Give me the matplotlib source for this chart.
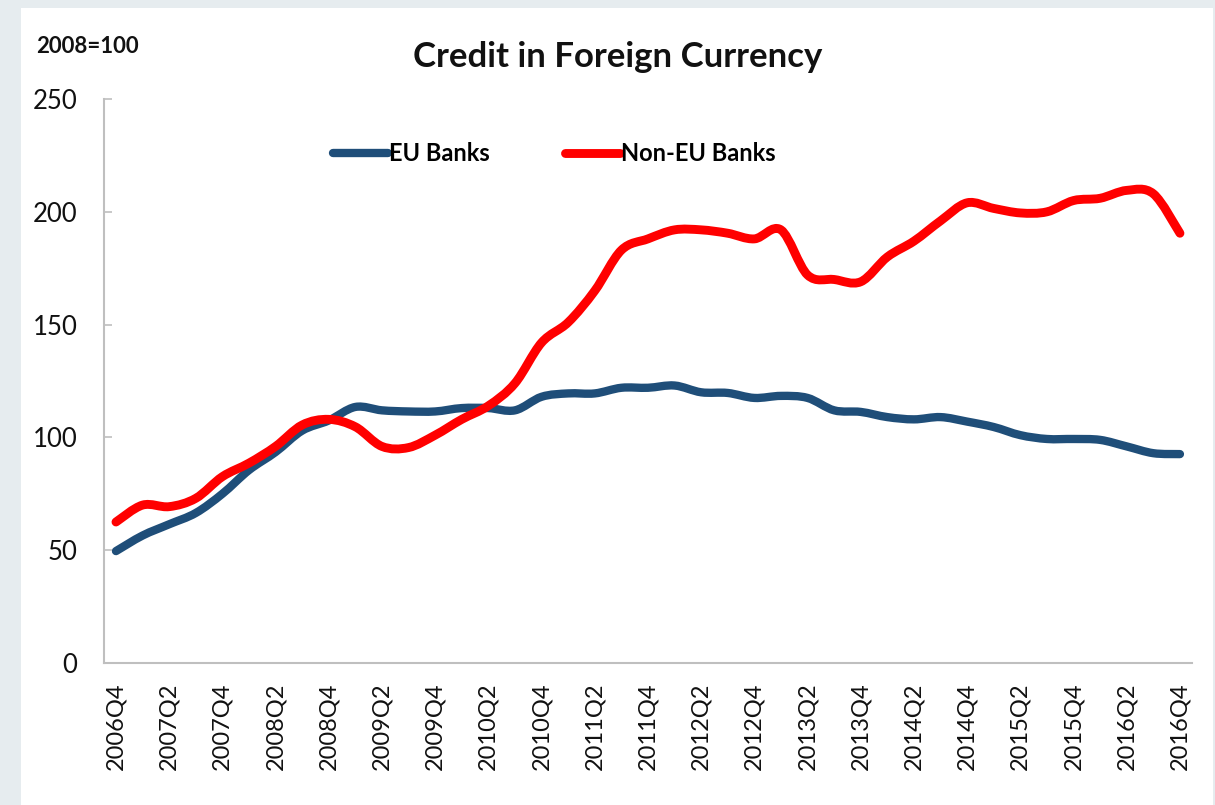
import numpy as np
import matplotlib.pyplot as plt
from matplotlib.path import Path
from matplotlib.patches import PathPatch, Rectangle
from matplotlib.lines import Line2D

plt.rcParams['font.family'] = ['Lato', 'DejaVu Sans']

# quarters 2006Q4 .. 2016Q4
quarters = []
for y in range(2006, 2017):
    for q in range(1, 5):
        if (y == 2006 and q < 4):
            continue
        quarters.append(f"{y}Q{q}")

eu_banks = [49.6, 56.5, 61.5, 66.5, 75, 85.5, 93.5, 103, 107.5, 113.5,
            112, 111.5, 111.5, 113, 113, 112, 118, 119.5, 119.5, 122,
            122, 123, 120, 119.7, 117.5, 118.4, 117.5, 112, 111.3, 109,
            108, 109, 107, 104.6, 101, 99.3, 99.3, 98.9, 96, 93, 92.6]
non_eu_banks = [62.5, 70, 69.3, 73, 82.6, 88.6, 96, 105.5, 108, 104.7,
                96, 95.5, 101, 108, 114, 124, 142, 151, 165, 183,
                188, 192, 192, 190.5, 188, 192, 172, 170, 169, 180,
                187, 196, 204, 201.5, 199.5, 200, 205, 206, 209.5, 208, 190.5]


def smooth_path(xs, ys, t=1/6):
    # excel-like smoothed line: cubic bezier through every point
    pts = np.column_stack([xs, ys])
    verts = [pts[0]]
    codes = [Path.MOVETO]
    n = len(pts)
    for i in range(n - 1):
        p0 = pts[i - 1] if i > 0 else pts[i]
        p1 = pts[i]
        p2 = pts[i + 1]
        p3 = pts[i + 2] if i + 2 < n else pts[i + 1]
        c1 = p1 + (p2 - p0) * t
        c2 = p2 - (p3 - p1) * t
        verts += [c1, c2, p2]
        codes += [Path.CURVE4] * 3
    return Path(verts, codes)


fig = plt.figure(figsize=(12.15, 8.05), dpi=100)
fig.patch.set_facecolor('#e6ecef')
fig.patches.append(Rectangle((0.0173, 0), 0.981, 0.99, transform=fig.transFigure,
                             facecolor='white', edgecolor='none', zorder=-5))

ax = fig.add_axes([0.0856, 0.1764, 0.8954, 0.7006])
ax.set_facecolor('white')

x = np.arange(len(quarters))
blue = '#1f4e79'
red = '#ff0000'
ax.add_patch(PathPatch(smooth_path(x, eu_banks), facecolor='none', edgecolor=blue,
                       lw=6.0, capstyle='round', joinstyle='round'))
ax.add_patch(PathPatch(smooth_path(x, non_eu_banks), facecolor='none', edgecolor=red,
                       lw=6.4, capstyle='round', joinstyle='round'))

ax.set_xlim(-0.45, len(quarters) - 0.55)
ax.set_ylim(0, 250)
ax.set_yticks([0, 50, 100, 150, 200, 250])
ax.set_xticks(x[::2])
ax.set_xticklabels(quarters[::2], rotation=90)

for s in ['top', 'right']:
    ax.spines[s].set_visible(False)
for s in ['left', 'bottom']:
    ax.spines[s].set_color('#bfbfbf')
    ax.spines[s].set_linewidth(1.5)
ax.tick_params(axis='y', direction='in', length=6, color='#bfbfbf', width=1.2,
               labelsize=18.5, pad=19, labelcolor='#111111')
ax.tick_params(axis='x', length=0, labelsize=17, pad=14, labelcolor='#111111')

handles = [Line2D([], [], color=blue, lw=6.0, solid_capstyle='round'),
           Line2D([], [], color=red, lw=6.4, solid_capstyle='round')]
ax.legend(handles, ['EU Banks', 'Non-EU Banks'], loc='center', ncol=2,
          bbox_to_anchor=(0.414, 0.903), frameon=False, handlelength=2.3,
          handletextpad=0.05, columnspacing=3.2,
          prop={'size': 17, 'weight': 'bold'})

fig.text(0.508, 0.929, 'Credit in Foreign Currency', ha='center', va='center',
         fontsize=25, fontweight='bold', color='#111111')
fig.text(0.030, 0.942, '2008=100', ha='left', va='center',
         fontsize=16, fontweight='bold', color='#111111')

fig.savefig('out.png', dpi=100, facecolor=fig.get_facecolor())
